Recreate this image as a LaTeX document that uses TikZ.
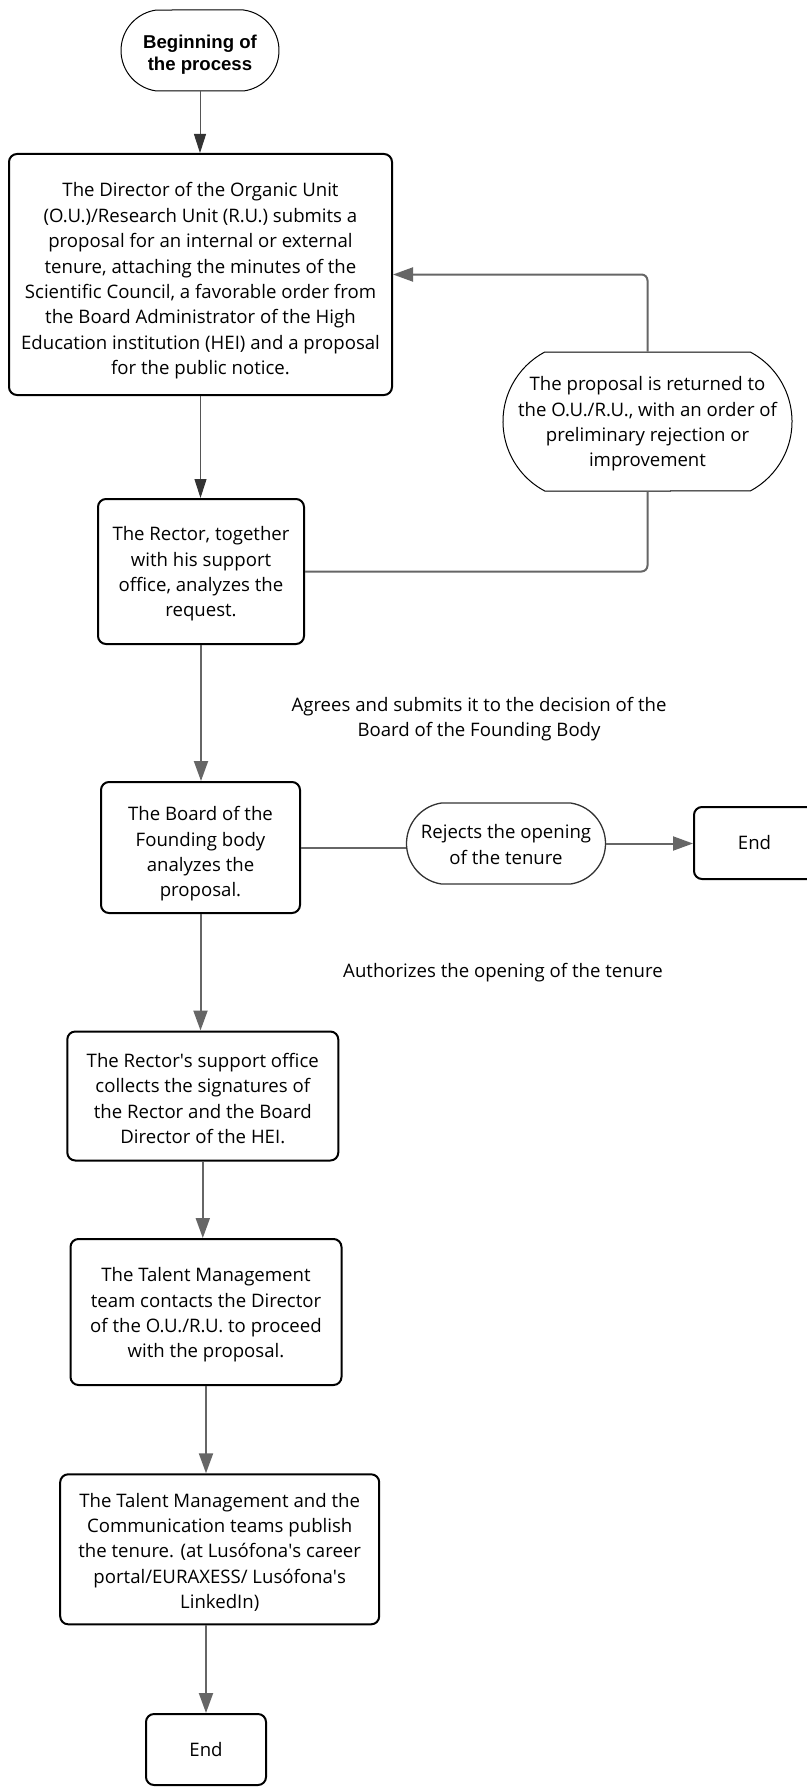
\documentclass[tikz,border=0pt]{standalone}
\usepackage{fontspec}
\setmainfont{Open Sans}
\newfontfamily\startfont{Liberation Sans}
\usetikzlibrary{arrows.meta,shapes.misc}
\definecolor{lnk}{HTML}{666666}
\definecolor{dk}{HTML}{333333}
\definecolor{thinl}{HTML}{555555}
\tikzset{
 box/.style={draw=black, line width=2pt, rounded corners=8pt, inner sep=0pt},
 term/.style={draw=black, line width=1pt, shape=rounded rectangle, inner sep=0pt},
 txt/.style={align=center, inner sep=0pt, font=\fontsize{18.6}{25.4}\selectfont},
 thinarr/.style={draw=thinl, line width=1pt, -{Triangle[length=19pt,width=12pt,color=dk]}},
 garr/.style={draw=lnk, line width=2pt, -{Triangle[length=20pt,width=14pt,color=lnk]}},
 gline/.style={draw=lnk, line width=2pt},
}
\begin{document}
\begin{tikzpicture}[x=1pt,y=-1pt]
\useasboundingbox (0,0) rectangle (806,1787);
% terminal start
\node[term, minimum width=158pt, minimum height=81pt, rounded rectangle arc length=165] (start) at (200,50.5) {};
\node[align=center, inner sep=0pt, font=\startfont\bfseries\fontsize{18.6}{22.3}\selectfont] (startt) at ([yshift=-4.5pt]start.center) {Beginning of\\the process};
% box1
\node[box, minimum width=383pt, minimum height=241pt] (b1) at (200.5,274.5) {};
\node[txt] (b1t) at ([yshift=-6.5pt]b1.center) {The Director of the Organic Unit\\(O.U.)/Research Unit (R.U.) submits a\\proposal for an internal or external\\tenure, attaching the minutes of the\\Scientific Council, a favorable order from\\the Board Administrator of the High\\Education institution (HEI) and a proposal\\for the public notice.};
% box2
\node[box, minimum width=206pt, minimum height=145pt] (b2) at (201,571.5) {};
\node[txt] (b2t) at ([yshift=-2.5pt]b2.center) {The Rector, together\\with his support\\office, analyzes the\\request.};
% return node
\node[term, minimum width=289pt, minimum height=139pt, rounded rectangle arc length=124] (ret) at (647.5,421.5) {};
\node[txt] (rett) at ([yshift=-2.5pt]ret.center) {The proposal is returned to\\the O.U./R.U., with an order of\\preliminary rejection or\\improvement};
% box3
\node[box, minimum width=199pt, minimum height=131pt] (b3) at (200.5,847.5) {};
\node[txt] (b3t) at ([yshift=-6.5pt]b3.center) {The Board of the\\Founding body\\analyzes the\\proposal.};
% reject
\node[term, draw=dk, line width=1.3pt, minimum width=199pt, minimum height=81pt, rounded rectangle arc length=163] (rej) at (506,843.5) {};
\node[txt] (rejt) at ([yshift=-1pt]rej.center) {Rejects the opening\\of the tenure};
% end1 (runs past the right margin)
\node[box, minimum width=140pt, minimum height=72pt] (e1) at (764,843) {};
\node[txt] (e1t) at (754.5,843) {End};
% labels
\node[txt] (l1) at (479,719) {Agrees and submits it to the decision of the\\Board of the Founding Body};
\node[txt] (l2) at (503,973) {Authorizes the opening of the tenure};
% box4
\node[box, minimum width=271pt, minimum height=129pt] (b4) at (202.8,1096) {};
\node[txt] (b4t) at ([yshift=-2.5pt]b4.center) {The Rector\textquotesingle s support office\\collects the signatures of\\the Rector and the Board\\Director of the HEI.};
% box5
\node[box, minimum width=271pt, minimum height=146pt] (b5) at (206,1312) {};
\node[txt] (b5t) at ([yshift=-3pt]b5.center) {The Talent Management\\team contacts the Director\\of the O.U./R.U. to proceed\\with the proposal.};
% box6
\node[box, minimum width=319pt, minimum height=150pt] (b6) at (219.7,1549.3) {};
\node[txt] (b6t) at ([yshift=-3pt]b6.center) {The Talent Management and the\\Communication teams publish\\the tenure. (at Lusófona\textquotesingle s career\\portal/EURAXESS/ Lusófona\textquotesingle s\\LinkedIn)};
% end2
\node[box, minimum width=120pt, minimum height=71pt] (e2) at (206,1749.5) {};
\node[txt] (e2t) at (e2.center) {End};
% connectors
\draw[thinarr] (start.south) -- (start.south |- b1.north);
\draw[thinarr] (b1.south) -- (b1.south |- b2.north);
\draw[gline, rounded corners=6pt] (b2.east) -| (ret.south);
\draw[garr, rounded corners=6pt] (ret.north) |- (b1.east);
\draw[garr] (b2.south) -- (b2.south |- b3.north);
\draw[gline] (b3.east) -- (b3.east -| rej.west);
\draw[garr] (rej.east) -- (rej.east -| e1.west);
\draw[garr] (b3.south) -- (b3.south |- b4.north);
\draw[garr] (b4.south) -- (b4.south |- b5.north);
\draw[garr] (b5.south) -- (b5.south |- b6.north);
\draw[garr] (b6.south -| e2.north) -- (e2.north);
\end{tikzpicture}
\end{document}
